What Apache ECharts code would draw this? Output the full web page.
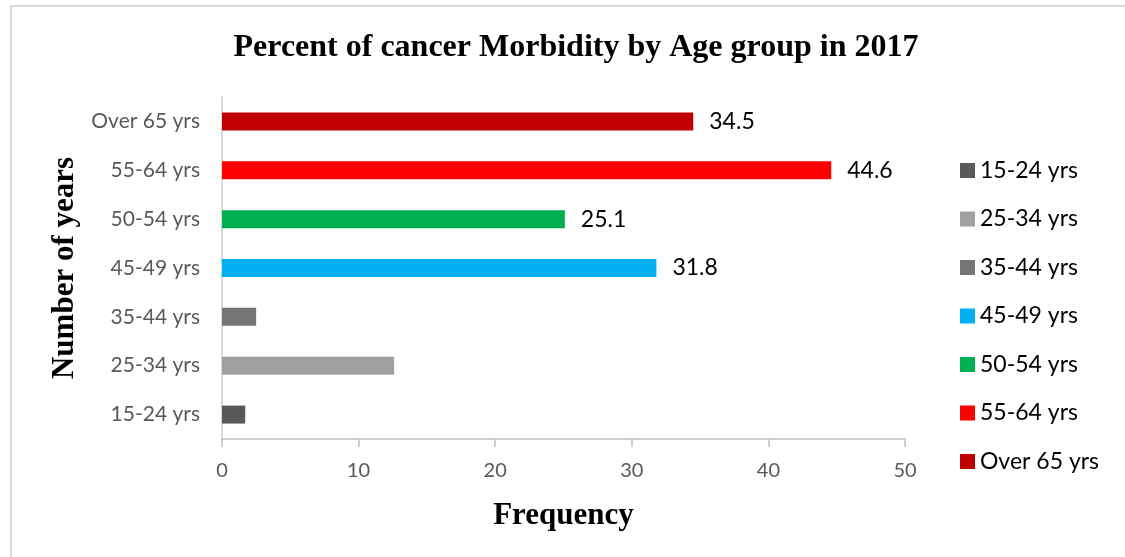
<!DOCTYPE html>
<html>
<head>
<meta charset="utf-8">
<script src="https://cdn.jsdelivr.net/npm/echarts@6/dist/echarts.min.js"></script>
<style>
  html, body { margin: 0; padding: 0; background: #fff; }
  #chart { width: 1125px; height: 557px; }
</style>
</head>
<body>
<div id="chart"></div>
<script>
// Age groups, bottom to top on the category axis
const ageGroups = ['15-24 yrs', '25-34 yrs', '35-44 yrs', '45-49 yrs', '50-54 yrs', '55-64 yrs', 'Over 65 yrs'];
// Percent of cancer morbidity per age group
const percents = [1.7, 12.6, 2.5, 31.8, 25.1, 44.6, 34.5];
const barColors = ['#595959', '#a0a0a0', '#757575', '#00b0f0', '#00b050', '#ff0000', '#c00000'];
// Groups whose bars carry a value label
const labelledGroups = ['45-49 yrs', '50-54 yrs', '55-64 yrs', 'Over 65 yrs'];
const xTicks = { min: 0, max: 50, interval: 10 };

const labelFont = 'Lato, "Open Sans", sans-serif';
const serifFont = '"Liberation Serif", "DejaVu Serif", serif';

// One series per age group so each gets its own legend entry; stacking keeps bars centred
const series = ageGroups.map((name, i) => ({
  name: name,
  type: 'bar',
  stack: 'all',
  barWidth: 18,
  itemStyle: { color: barColors[i] },
  data: ageGroups.map((_, j) => (j === i ? percents[i] : null)),
  label: {
    show: labelledGroups.includes(name),
    position: 'right',
    distance: 16,
    color: '#000',
    fontFamily: labelFont,
    fontSize: 23
  }
}));

const chart = echarts.init(document.getElementById('chart'));
chart.setOption({
  animation: false,
  backgroundColor: '#fff',
  title: {
    text: 'Percent of cancer Morbidity by Age group in 2017',
    left: 571,
    textAlign: 'center',
    top: 27,
    textStyle: { fontFamily: serifFont, fontWeight: 'bold', fontSize: 32, color: '#000' }
  },
  legend: {
    orient: 'vertical',
    left: 955,
    top: 154,
    itemWidth: 15,
    itemHeight: 15,
    itemGap: 25.5,
    icon: 'rect',
    data: ageGroups,
    textStyle: { fontFamily: labelFont, fontSize: 23, color: '#000' }
  },
  grid: { left: 222, right: 220, top: 97, bottom: 118, containLabel: false },
  xAxis: {
    type: 'value',
    min: xTicks.min,
    max: xTicks.max,
    interval: xTicks.interval,
    name: 'Frequency',
    nameLocation: 'middle',
    nameGap: 61,
    nameTextStyle: { fontFamily: serifFont, fontWeight: 'bold', fontSize: 31, color: '#000' },
    axisLine: { show: true, lineStyle: { color: '#bfbfbf', width: 1.5 } },
    axisTick: { show: true, length: 8, lineStyle: { color: '#bfbfbf', width: 1.5 } },
    splitLine: { show: false },
    axisLabel: { margin: 22, fontFamily: labelFont, fontSize: 20, color: '#595959' }
  },
  yAxis: {
    type: 'category',
    data: ageGroups,
    name: 'Number of years',
    nameLocation: 'middle',
    nameGap: 140,
    nameTextStyle: { fontFamily: serifFont, fontWeight: 'bold', fontSize: 31, color: '#000' },
    axisLine: { show: true, lineStyle: { color: '#d9d9d9', width: 2 } },
    axisTick: { show: false },
    axisLabel: { margin: 22, fontFamily: labelFont, fontSize: 21, color: '#595959' }
  },
  graphic: [
    {
      type: 'polyline',
      shape: { points: [[11, 557], [11, 6], [1125, 6]] },
      style: { stroke: '#d9d9d9', lineWidth: 2, fill: null },
      silent: true
    }
  ],
  series: series
});
</script>
</body>
</html>
